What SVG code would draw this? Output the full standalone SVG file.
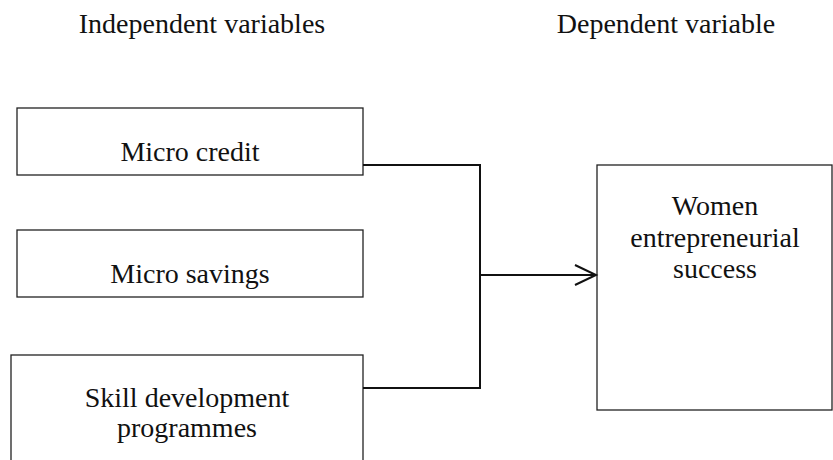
<svg xmlns="http://www.w3.org/2000/svg" width="833" height="460" viewBox="0 0 833 460">
<style>
.box{fill:#fff;stroke:#222;stroke-width:1.3}
.t{font-family:"Liberation Serif","Times New Roman",serif;font-size:28px;fill:#111;text-anchor:middle}
.c{fill:none;stroke:#111;stroke-width:2}
</style>
<rect width="833" height="460" fill="#fff"/>
<text class="t" x="202" y="33" font-size="29">Independent variables</text>
<text class="t" x="666" y="33" font-size="29.5">Dependent variable</text>
<g id="micro-credit">
<rect class="box" x="17" y="108" width="346" height="67"/>
<text class="t" x="190" y="161">Micro credit</text>
</g>
<g id="micro-savings">
<rect class="box" x="17" y="230" width="346" height="67"/>
<text class="t" x="190" y="283">Micro savings</text>
</g>
<g id="skill-development">
<rect class="box" x="11" y="355" width="352" height="120"/>
<text class="t" x="187" y="407">Skill development</text>
<text class="t" x="187" y="437">programmes</text>
</g>
<g id="women-success">
<rect class="box" x="597" y="165" width="235" height="245"/>
<text class="t" x="715" y="215" font-size="30">Women</text>
<text class="t" x="715" y="247" font-size="30">entrepreneurial</text>
<text class="t" x="715" y="278" font-size="30">success</text>
</g>
<g id="connectors">
<polyline class="c" points="363,165 480,165 480,388 363,388"/>
<line class="c" x1="480" y1="275" x2="596" y2="275"/>
<polyline class="c" points="575,265 596,275 575,285"/>
</g>
</svg>
